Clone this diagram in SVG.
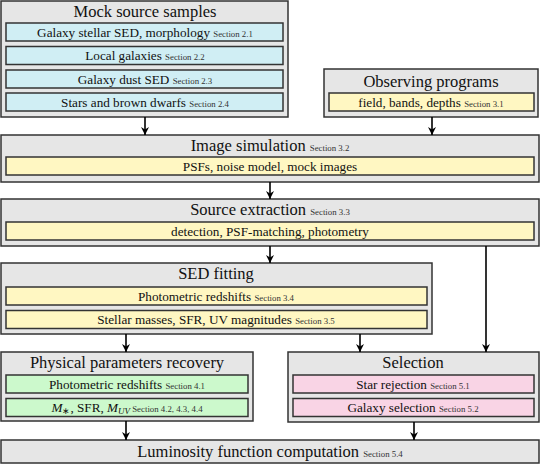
<svg xmlns="http://www.w3.org/2000/svg" width="540" height="464" viewBox="0 0 540 464">
<style>
.outer{fill:#e6e6e6;stroke:#333;stroke-width:1.5}
.blue{fill:#d0eef4;stroke:#333;stroke-width:1.5}
.yel{fill:#fff7c2;stroke:#333;stroke-width:1.5}
.grn{fill:#ccf9cc;stroke:#333;stroke-width:1.5}
.pnk{fill:#f9d4e5;stroke:#333;stroke-width:1.5}
text{fill:#111;text-anchor:middle;font-family:"Liberation Serif","Times New Roman",serif}
.t{font-size:16.5px}
.i{font-size:13.2px}
.s{font-size:8.8px;fill:#333}
.conn line{stroke:#000;stroke-width:1.6;marker-end:url(#ah)}
</style>
<defs>
<marker id="ah" viewBox="0 0 10 10" refX="10" refY="5" markerWidth="5" markerHeight="5" orient="auto" markerUnits="strokeWidth">
<path d="M0,0 L10,5 L0,10 L3,5 z" fill="#000"/>
</marker>
</defs>
<g id="mock">
<rect class="outer" x="1" y="1" width="287" height="116"/>
<text class="t" x="145" y="17">Mock source samples</text>
<rect class="blue" x="6" y="23" width="277" height="18"/>
<text class="i" x="145" y="36.5">Galaxy stellar SED, morphology <tspan class="s">Section 2.1</tspan></text>
<rect class="blue" x="6" y="46.5" width="277" height="18"/>
<text class="i" x="145" y="60">Local galaxies <tspan class="s">Section 2.2</tspan></text>
<rect class="blue" x="6" y="70" width="277" height="18"/>
<text class="i" x="145" y="83.5">Galaxy dust SED <tspan class="s">Section 2.3</tspan></text>
<rect class="blue" x="6" y="93" width="277" height="18"/>
<text class="i" x="145" y="106.5">Stars and brown dwarfs <tspan class="s">Section 2.4</tspan></text>
</g>

<g id="observing">
<rect class="outer" x="324" y="69" width="214" height="48"/>
<text class="t" x="431" y="87">Observing programs</text>
<rect class="yel" x="329" y="93" width="205" height="18"/>
<text class="i" x="431" y="106.5">field, bands, depths <tspan class="s">Section 3.1</tspan></text>
</g>

<g id="imagesim">
<rect class="outer" x="1" y="135" width="538" height="47"/>
<text class="t" x="270" y="151">Image simulation <tspan class="s">Section 3.2</tspan></text>
<rect class="yel" x="6" y="157" width="528" height="18"/>
<text class="i" x="270" y="170.5">PSFs, noise model, mock images</text>
</g>

<g id="extraction">
<rect class="outer" x="1" y="199" width="538" height="47"/>
<text class="t" x="270" y="215">Source extraction <tspan class="s">Section 3.3</tspan></text>
<rect class="yel" x="6" y="222" width="528" height="18"/>
<text class="i" x="270" y="235.5">detection, PSF-matching, photometry</text>
</g>

<g id="sedfit">
<rect class="outer" x="1" y="263" width="431" height="71"/>
<text class="t" x="216" y="279">SED fitting</text>
<rect class="yel" x="6" y="287" width="421" height="18"/>
<text class="i" x="216" y="300.5">Photometric redshifts <tspan class="s">Section 3.4</tspan></text>
<rect class="yel" x="6" y="310.5" width="421" height="18"/>
<text class="i" x="216" y="324">Stellar masses, SFR, UV magnitudes <tspan class="s">Section 3.5</tspan></text>
</g>

<g id="physical">
<rect class="outer" x="1" y="352" width="252" height="69"/>
<text class="t" x="127" y="368">Physical parameters recovery</text>
<rect class="grn" x="6" y="375" width="242" height="18"/>
<text class="i" x="127" y="388.5">Photometric redshifts <tspan class="s">Section 4.1</tspan></text>
<rect class="grn" x="6" y="398.5" width="242" height="18"/>
<text class="i" x="127" y="412"><tspan font-style="italic">M</tspan><tspan font-size="9" dy="2">∗</tspan><tspan dy="-2">, SFR, </tspan><tspan font-style="italic">M</tspan><tspan font-size="9" font-style="italic" dy="2">UV</tspan><tspan class="s" dy="-2"> Section 4.2, 4.3, 4.4</tspan></text>
</g>

<g id="selection">
<rect class="outer" x="288" y="352" width="251" height="70"/>
<text class="t" x="413" y="368">Selection</text>
<rect class="pnk" x="293" y="375" width="241" height="18"/>
<text class="i" x="413" y="388.5">Star rejection <tspan class="s">Section 5.1</tspan></text>
<rect class="pnk" x="293" y="398.5" width="241" height="18"/>
<text class="i" x="413" y="412">Galaxy selection <tspan class="s">Section 5.2</tspan></text>
</g>

<g id="luminosity">
<rect class="outer" x="1" y="440" width="538" height="23"/>
<text class="t" x="270" y="457">Luminosity function computation <tspan class="s">Section 5.4</tspan></text>
</g>
<g id="connectors" class="conn">
<line x1="145" y1="117" x2="145" y2="135"/>
<line x1="432" y1="117" x2="432" y2="135"/>
<line x1="270" y1="182" x2="270" y2="199"/>
<line x1="270" y1="246" x2="270" y2="263"/>
<line x1="486" y1="246" x2="486" y2="352"/>
<line x1="126" y1="334" x2="126" y2="352"/>
<line x1="360" y1="334" x2="360" y2="352"/>
<line x1="126" y1="421" x2="126" y2="440"/>
<line x1="414" y1="422" x2="414" y2="440"/>
</g>
</svg>
